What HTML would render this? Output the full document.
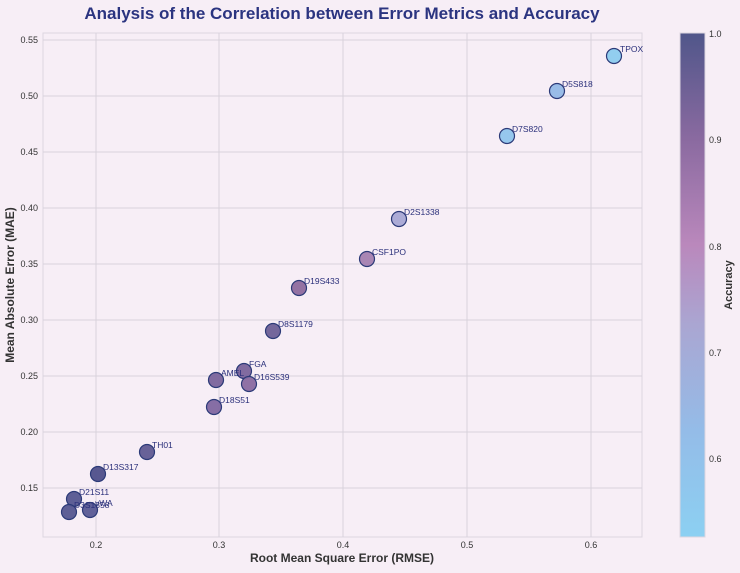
<!DOCTYPE html><html><head><style>body{margin:0;background:#f7eef6}svg{font-family:"Liberation Sans",sans-serif}</style></head><body>
<svg width="740" height="568" xmlns="http://www.w3.org/2000/svg">
<defs><linearGradient id="cb" x1="0" y1="1" x2="0" y2="0">
<stop offset="0" stop-color="#8cd0f2"/><stop offset="0.21" stop-color="#94bce8"/><stop offset="0.42" stop-color="#aaa6d2"/><stop offset="0.58" stop-color="#ba88bc"/><stop offset="0.79" stop-color="#8a6aa0"/><stop offset="1" stop-color="#50568a"/></linearGradient></defs>
<rect x="43" y="33" width="599" height="504" fill="#f7eef6" stroke="#dcd6e0"/>
<g stroke="#d8d2dc" stroke-width="1">
<line x1="96" y1="33" x2="96" y2="537"/><line x1="219" y1="33" x2="219" y2="537"/><line x1="343" y1="33" x2="343" y2="537"/><line x1="467" y1="33" x2="467" y2="537"/><line x1="591" y1="33" x2="591" y2="537"/>
<line x1="43" y1="40" x2="642" y2="40"/><line x1="43" y1="96" x2="642" y2="96"/><line x1="43" y1="152" x2="642" y2="152"/><line x1="43" y1="208" x2="642" y2="208"/><line x1="43" y1="264" x2="642" y2="264"/><line x1="43" y1="320" x2="642" y2="320"/><line x1="43" y1="376" x2="642" y2="376"/><line x1="43" y1="432" x2="642" y2="432"/><line x1="43" y1="488" x2="642" y2="488"/>
</g>
<g font-size="9" fill="#333" text-anchor="end">
<text x="38" y="43">0.55</text><text x="38" y="99">0.50</text><text x="38" y="155">0.45</text><text x="38" y="211">0.40</text><text x="38" y="267">0.35</text><text x="38" y="323">0.30</text><text x="38" y="379">0.25</text><text x="38" y="435">0.20</text><text x="38" y="491">0.15</text>
</g>
<g font-size="9" fill="#333" text-anchor="middle">
<text x="96" y="548">0.2</text><text x="219" y="548">0.3</text><text x="343" y="548">0.4</text><text x="467" y="548">0.5</text><text x="591" y="548">0.6</text>
</g>
<text x="342" y="562" font-size="12" font-weight="bold" text-anchor="middle" fill="#333">Root Mean Square Error (RMSE)</text>
<text transform="translate(14,285) rotate(-90)" font-size="12" font-weight="bold" text-anchor="middle" fill="#333">Mean Absolute Error (MAE)</text>
<text x="342" y="19" font-size="17" font-weight="bold" text-anchor="middle" fill="#2b3480">Analysis of the Correlation between Error Metrics and Accuracy</text>
<g stroke="#2c3a78" stroke-width="1.2" fill-opacity="0.95">
<circle cx="614" cy="56" r="7.5" fill="#8ccbee"/><circle cx="557" cy="91" r="7.5" fill="#94b8e6"/><circle cx="507" cy="136" r="7.5" fill="#90c4ec"/><circle cx="399" cy="219" r="7.5" fill="#a8a6d4"/><circle cx="367" cy="259" r="7.5" fill="#a47fb0"/><circle cx="299" cy="288" r="7.5" fill="#8e6a9e"/><circle cx="273" cy="331" r="7.5" fill="#6d5f96"/><circle cx="244" cy="371" r="7.5" fill="#7a639b"/><circle cx="216" cy="380" r="7.5" fill="#7a639b"/><circle cx="249" cy="384" r="7.5" fill="#8a6aa0"/><circle cx="214" cy="407" r="7.5" fill="#7f66a0"/><circle cx="147" cy="452" r="7.5" fill="#605a92"/><circle cx="98" cy="474" r="7.5" fill="#4f4f8a"/><circle cx="74" cy="499" r="7.5" fill="#555690"/><circle cx="69" cy="512" r="7.5" fill="#555690"/><circle cx="90" cy="510" r="7.5" fill="#585894"/>
</g>
<g font-size="8.5" fill="#2a2f7a">
<text x="620" y="52">TPOX</text><text x="562" y="87">D5S818</text><text x="512" y="132">D7S820</text><text x="404" y="215">D2S1338</text><text x="372" y="255">CSF1PO</text><text x="304" y="284">D19S433</text><text x="278" y="327">D8S1179</text><text x="249" y="367">FGA</text><text x="221" y="376">AMEL</text><text x="254" y="380">D16S539</text><text x="219" y="403">D18S51</text><text x="152" y="448">TH01</text><text x="103" y="470">D13S317</text><text x="79" y="495">D21S11</text><text x="74" y="508">D3S1358</text><text x="95" y="506">vWA</text>
</g>
<rect x="680" y="33" width="25" height="504" fill="url(#cb)" stroke="#dcd6e0"/>
<g font-size="9" fill="#333">
<text x="709" y="37">1.0</text><text x="709" y="143">0.9</text><text x="709" y="250">0.8</text><text x="709" y="356">0.7</text><text x="709" y="462">0.6</text>
</g>
<text transform="translate(732,285) rotate(-90)" font-size="11" font-weight="bold" text-anchor="middle" fill="#333">Accuracy</text>
</svg></body></html>
